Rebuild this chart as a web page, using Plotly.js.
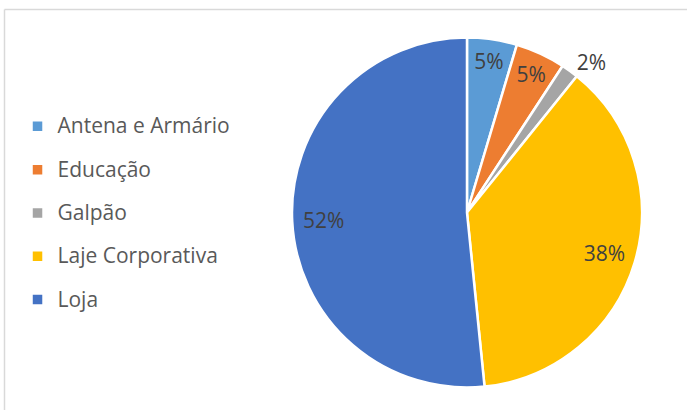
<!DOCTYPE html>
<html>
<head>
<meta charset="utf-8">
<script src="https://cdn.plot.ly/plotly-3.0.1.min.js"></script>
<style>html,body{margin:0;padding:0;background:#fff;}#chart{width:687px;height:410px;}</style>
</head>
<body>
<div id="chart"></div>
<script>
var categories = ["Antena e Armário", "Educação", "Galpão", "Laje Corporativa", "Loja"];
var values = [4.6, 4.6, 1.6, 37.6, 51.6];
var colors = ["#5B9BD5", "#ED7D31", "#A5A5A5", "#FFC000", "#4472C4"];

var legendLabels = categories.map(function (c) {
  return '<span style="font-size:21px;baseline-shift:5px">' + c + '</span>';
});

var pieDomain = { x: [0.425, 0.9345], y: [0.0549, 0.9085] };

// filled pie with white separators (no text)
var slices = {
  type: "pie",
  labels: legendLabels,
  values: values,
  sort: false,
  direction: "clockwise",
  rotation: 0,
  marker: { colors: colors, line: { color: "#ffffff", width: 2.5 } },
  textinfo: "none",
  hoverinfo: "none",
  domain: pieDomain,
  automargin: false
};

// transparent ring on the same pie that only carries the percentage labels,
// so that they sit near the outer edge like in the reference
var labelsRing = {
  type: "pie",
  labels: legendLabels,
  values: values,
  sort: false,
  direction: "clockwise",
  rotation: 0,
  hole: 0.64,
  showlegend: false,
  marker: { colors: values.map(function () { return "rgba(0,0,0,0)"; }), line: { width: 0 } },
  texttemplate: "%{percent:.0%}",
  textposition: ["inside", "inside", "outside", "inside", "inside"],
  insidetextorientation: "horizontal",
  textfont: { family: "Open Sans", size: 21, color: "#404040" },
  hoverinfo: "none",
  domain: pieDomain,
  automargin: false
};

var layout = {
  width: 687,
  height: 410,
  margin: { l: 0, r: 0, t: 0, b: 0 },
  paper_bgcolor: "#ffffff",
  showlegend: true,
  legend: {
    x: 0.0255, y: 0.7568, xanchor: "left", yanchor: "top",
    font: { family: "Open Sans", size: 31, color: "#595959" },
    bgcolor: "rgba(0,0,0,0)"
  },
  shapes: [
    { type: "line", xref: "paper", yref: "paper", x0: 4.5 / 687, x1: 1.01, y0: 1 - 9.5 / 410, y1: 1 - 9.5 / 410, line: { color: "#d9d9d9", width: 1.5 } },
    { type: "line", xref: "paper", yref: "paper", x0: 4.5 / 687, x1: 4.5 / 687, y0: -0.01, y1: 1 - 9.5 / 410, line: { color: "#d9d9d9", width: 1.5 } }
  ]
};

Plotly.newPlot("chart", [slices, labelsRing], layout, { staticPlot: true, displayModeBar: false });
</script>
</body>
</html>
